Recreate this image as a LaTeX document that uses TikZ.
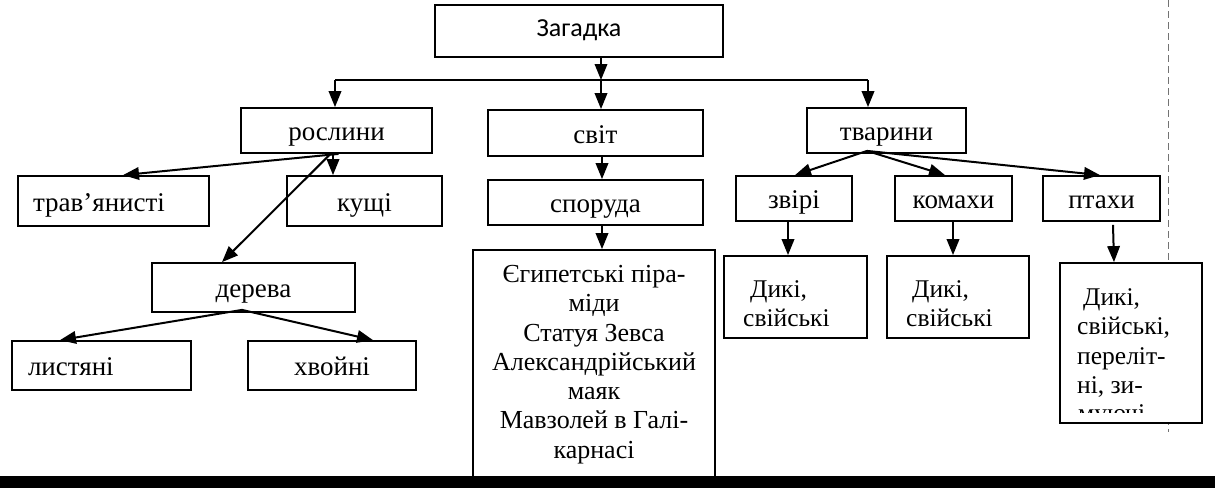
\documentclass[tikz,border=0pt]{standalone}
\usepackage{fontspec}
\setmainfont{Liberation Serif}
\newfontfamily\calibfont{Carlito}
\usetikzlibrary{arrows.meta}
\begin{document}
\begin{tikzpicture}[x=1pt,y=-1pt,
  box/.style={draw, line width=1.8pt, fill=white, inner sep=0pt, text height=20pt, text depth=0pt, font=\fontsize{27}{30}\selectfont},
  frame/.style={draw, line width=1.8pt, fill=white, inner sep=0pt},
  arr/.style={line width=2pt, -{Triangle[length=16pt,width=12.5pt]}},
  plain/.style={line width=1.8pt},
  txt/.style={inner sep=0pt, font=\fontsize{25.5}{29.3}\selectfont},
  dashline/.style={line width=0.9pt, black!55, dash pattern=on 7pt off 4pt},
]
\useasboundingbox (0,0) rectangle (1215,488);
\fill[white] (0,0) rectangle (1215,488);

% dashed guide on the right
\coordinate (dtop) at (1168,0);
\coordinate (dbot) at (1168,432);
\draw[dashline] (dtop) -- (dbot);

% top
\node[box, minimum width=288, minimum height=52, text height=15pt, text depth=4pt, font=\calibfont\fontsize{26}{30}\selectfont] (zag) at (579,31) {Загадка};

% level 1
\node[box, minimum width=191, minimum height=45] (ros) at (336.5,130.5) {рослини};
\node[box, minimum width=215, minimum height=46] (svit) at (595.5,133) {світ};
\node[box, minimum width=159, minimum height=45] (tvar) at (886.5,130.5) {тварини};

% plants
\node[box, minimum width=191, minimum height=50, text width=161, inner xsep=15, align=left] (trav) at (113.5,201) {трав’янисті};
\node[box, minimum width=155, minimum height=50] (kush) at (364.5,201) {кущі};
\node[box, minimum width=203, minimum height=49] (der) at (253.5,287.5) {дерева};
\node[box, minimum width=179, minimum height=49, text width=147, inner xsep=16, align=left] (lyst) at (101.5,365.5) {листяні};
\node[box, minimum width=168, minimum height=49] (khv) at (332,365.5) {хвойні};

% world
\node[box, minimum width=215, minimum height=45] (spor) at (595.5,202.5) {споруда};
\node[frame, minimum width=242, minimum height=230] (big) at (594,365) {};
\node[txt, font=\fontsize{26}{29.3}\selectfont, anchor=north, align=center] (bigt) at (594,265) {Єгипетські піра-\\міди\\Статуя Зевса\\Александрійський\\маяк\\Мавзолей в Галі-\\карнасі};

% animals
\node[box, minimum width=116, minimum height=45] (zvir) at (794,198.5) {звірі};
\node[box, minimum width=117, minimum height=45] (kom) at (953.5,198.5) {комахи};
\node[box, minimum width=117, minimum height=45] (ptah) at (1101.5,198.5) {птахи};

\node[frame, minimum width=143, minimum height=82] (d1) at (795.5,297) {};
\node[txt, anchor=north west, align=left] (d1t) at (743,280) {\hspace*{7pt}Дикі,\\свійські};
\node[frame, minimum width=142, minimum height=82] (d2) at (958,297) {};
\node[txt, anchor=north west, align=left] (d2t) at (906,280) {\hspace*{6pt}Дикі,\\свійські};
\node[frame, minimum width=142, minimum height=160] (d3) at (1131,343) {};
\node[txt, anchor=north west, align=left] (d3t) at (1077,288.5) {\hspace*{6pt}Дикі,\\свійські,\\переліт-\\ні, зи-};
\begin{scope}
  \clip (1061,264) rectangle (1201,412);
  \node[txt, anchor=base west] (d3c) at (1078,421) {муючі};
\end{scope}

% bus
\coordinate (busL) at (335,80);
\coordinate (busM) at (601,80);
\coordinate (busR) at (868,80);
\draw[plain] (busL) -- (busR);
\draw[arr] ([xshift=22]zag.south) -- (busM);
\draw[arr] (busM) -- ([xshift=5.5]svit.north);
\draw[arr] (busL) -- ([xshift=-1.5]ros.north);
\draw[arr] (busR) -- ([xshift=-18.5]tvar.north);

% plants connectors
\draw[arr] ([xshift=2]ros.south) -- ([xshift=9.5]trav.north);
\draw[arr] ([xshift=-3.5]ros.south) -- ([xshift=-31.5]kush.north);
\draw[arr] ([xshift=-6]ros.south) -- ([xshift=-31.5]der.north);
\draw[arr] ([xshift=-11.5,yshift=3]der.south) -- ([xshift=-41.5]lyst.north);
\draw[arr] ([xshift=-11.5,yshift=3]der.south) -- ([xshift=41]khv.north);

% world connectors
\draw[arr] ([xshift=6.5]svit.south) -- ([xshift=6.5]spor.north);
\draw[arr] ([xshift=6.5]spor.south) -- ([xshift=8]big.north);

% animals connectors
\draw[arr] ([xshift=-19.5,yshift=3]tvar.south) -- ([xshift=1]zvir.north);
\draw[arr] ([xshift=-19.5,yshift=3]tvar.south) -- ([xshift=-8.5]kom.north);
\draw[arr] ([xshift=-19.5,yshift=3]tvar.south) -- ([xshift=-1.5]ptah.north);
\draw[arr] ([xshift=-6]zvir.south) -- ([xshift=-7.5]d1.north);
\draw[arr] ([xshift=-0.5]kom.south) -- ([xshift=-5]d2.north);
\draw[arr] ([xshift=11.5,yshift=-3]ptah.south) -- ([xshift=-17]d3.north);

% black band at the bottom
\fill[black] (0,476) rectangle (1215,488);
\end{tikzpicture}
\end{document}
